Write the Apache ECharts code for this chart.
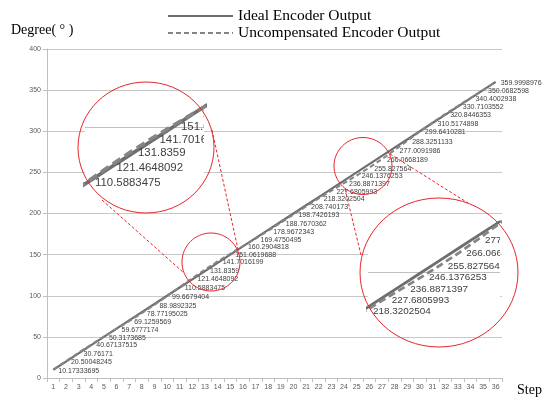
<!DOCTYPE html>
<html>
<head>
<meta charset="utf-8">
<script src="https://cdn.jsdelivr.net/npm/echarts@6/dist/echarts.min.js"></script>
<style>
  html, body { margin: 0; padding: 0; background: #fff; }
  #chart { width: 550px; height: 399px; }
</style>
</head>
<body>
<div id="chart"></div>
<script>
// Encoder steps and angle readings (degrees)
const steps = ['1','2','3','4','5','6','7','8','9','10','11','12','13','14','15','16','17','18',
               '19','20','21','22','23','24','25','26','27','28','29','30','31','32','33','34','35','36'];

const idealOutput = [10, 20, 30, 40, 50, 60, 70, 80, 90, 100, 110, 120, 130, 140, 150, 160, 170, 180,
                     190, 200, 210, 220, 230, 240, 250, 260, 270, 280, 290, 300, 310, 320, 330, 340, 350, 360];

const uncompensatedOutput = [10.17333695, 20.50048245, 30.76171, 40.67137515, 50.3173685, 59.6777174,
                             69.1259569, 78.77195025, 88.9892325, 99.6679404, 110.5883475, 121.4648092,
                             131.8359, 141.7016199, 151.0619688, 160.2904818, 169.4750495, 178.9672343,
                             188.7670362, 198.7426193, 208.740173, 218.3202504, 227.6805993, 236.8871397,
                             246.1376253, 255.827564, 266.0668189, 277.0091986, 288.3251133, 299.6410281,
                             310.5174898, 320.8446353, 330.7103552, 340.4002938, 350.0682598, 359.9998976];

const seriesNames = ['Ideal Encoder Output', 'Uncompensated Encoder Output'];
const yRange = [0, 400];
const yStep = 50;

// Magnified views: screen box, visible step / degree window, and callout geometry
const magnifiers = [
  {
    box: { left: 85, top: 105, width: 119, height: 85 },
    steps: [10.907, 16.442], degrees: [104.8, 165.78], gridAt: 150,
    fontSize: 11.4, lineWidth: 3.6, labelGap: 8,
    lens: { cx: 211, cy: 262, rx: 29, ry: 29 },
    view: { cx: 146, cy: 147.5, rx: 68, ry: 65.5 },
    rays: [[102, 200, 184, 273], [212, 130, 239, 254]]
  },
  {
    box: { left: 368, top: 222, width: 132, height: 103 },
    steps: [22.107, 29.177], degrees: [206.24, 291.29], gridAt: 250,
    fontSize: 9.9, lineWidth: 2.8, labelGap: 7,
    lens: { cx: 363, cy: 166, rx: 29, ry: 28.5 },
    view: { cx: 439, cy: 272.5, rx: 79, ry: 74.5 },
    rays: [[390, 154, 468, 203], [345, 189, 361, 255]]
  }
];

const solidColor = '#6e6e6e';
const dashColor = '#858585';
const red = '#e5262d';
const labelFont = 'Liberation Sans';
const serif = 'Liberation Serif';

const chart = echarts.init(document.getElementById('chart'), null, { renderer: 'canvas' });

const grids = [{ left: 47, right: 48, top: 49, bottom: 21, containLabel: false }];
const xAxes = [{
  type: 'category', gridIndex: 0, data: steps, boundaryGap: true,
  axisLine: { lineStyle: { color: '#bfbfbf', width: 1 } },
  axisTick: { show: true, length: 4, alignWithLabel: false, lineStyle: { color: '#bfbfbf' } },
  axisLabel: { fontSize: 7, color: '#595959', fontFamily: labelFont, margin: 6 },
  splitLine: { show: false }
}];
const yAxes = [{
  type: 'value', gridIndex: 0, min: yRange[0], max: yRange[1], interval: yStep,
  axisLine: { show: true, lineStyle: { color: '#bfbfbf', width: 1 } },
  axisTick: { show: true, length: 4, lineStyle: { color: '#bfbfbf' } },
  axisLabel: { fontSize: 7, color: '#595959', fontFamily: labelFont, margin: 6 },
  splitLine: { show: true, lineStyle: { color: '#c8c8c8', width: 1 } }
}];

const series = [
  {
    name: seriesNames[0], type: 'line', xAxisIndex: 0, yAxisIndex: 0,
    data: idealOutput, symbol: 'none', smooth: false, z: 3,
    lineStyle: { color: solidColor, width: 2.2 }, itemStyle: { color: solidColor },
    emphasis: { disabled: true }
  },
  {
    name: seriesNames[1], type: 'line', xAxisIndex: 0, yAxisIndex: 0,
    data: uncompensatedOutput, symbol: 'circle', symbolSize: 0.01, showSymbol: true, z: 4,
    lineStyle: { color: dashColor, width: 2, type: [5, 3] }, itemStyle: { color: dashColor },
    label: {
      show: true, position: 'right', distance: 5, offset: [0, 1],
      fontSize: 7, color: '#404040', fontFamily: labelFont,
      formatter: p => String(uncompensatedOutput[p.dataIndex])
    },
    emphasis: { disabled: true }
  }
];

const graphics = [
  { type: 'text', x: 11, y: 23, z: 30,
    style: { text: 'Degree( ° )', font: '14px "Liberation Serif"', fill: '#000' } },
  { type: 'text', x: 517, y: 383, z: 30,
    style: { text: 'Step', font: '14px "Liberation Serif"', fill: '#000' } }
];

magnifiers.forEach((m, k) => {
  const gi = k + 1;
  grids.push(Object.assign({ show: true, backgroundColor: '#ffffff', borderWidth: 0, z: 5 }, m.box));
  xAxes.push({
    type: 'value', gridIndex: gi, min: m.steps[0], max: m.steps[1], show: false, z: 6
  });
  yAxes.push({
    type: 'value', gridIndex: gi, min: m.degrees[0], max: m.degrees[1], show: false, z: 6,
    splitLine: { show: false }
  });
  const idealPts = idealOutput.map((v, i) => [i + 1, v]);
  const uncompPts = uncompensatedOutput.map((v, i) => [i + 1, v]);
  series.push({
    type: 'line', xAxisIndex: gi, yAxisIndex: gi, data: idealPts, symbol: 'none', z: 7, clip: true,
    lineStyle: { color: solidColor, width: m.lineWidth }, silent: true,
    markLine: {
      silent: true, symbol: 'none', label: { show: false },
      lineStyle: { color: '#bfbfbf', width: 1, type: 'solid' },
      data: [{ yAxis: m.gridAt }]
    }
  });
  series.push({
    type: 'line', xAxisIndex: gi, yAxisIndex: gi, data: uncompPts, symbol: 'none', z: 8, clip: true,
    lineStyle: { color: dashColor, width: m.lineWidth, type: [m.lineWidth * 2.6, m.lineWidth * 1.4] },
    silent: true
  });
  // value labels of the magnified view, clipped to its box
  series.push({
    type: 'custom', xAxisIndex: gi, yAxisIndex: gi, data: uncompPts, z: 9, clip: true, silent: true,
    renderItem: (params, api) => {
      const step = api.value(0);
      if (step < m.steps[0] - 0.25 || step > m.steps[1]) return null;
      const pt = api.coord([step, api.value(1)]);
      return {
        type: 'text', x: pt[0] + m.labelGap, y: pt[1] + 1,
        style: {
          text: String(uncompensatedOutput[params.dataIndex]),
          fontSize: m.fontSize, fontFamily: labelFont, fill: '#404040',
          align: 'left', verticalAlign: 'middle'
        }
      };
    }
  });

  graphics.push({ type: 'ellipse', z: 20, silent: true,
    shape: { cx: m.lens.cx, cy: m.lens.cy, rx: m.lens.rx, ry: m.lens.ry },
    style: { fill: null, stroke: red, lineWidth: 1 } });
  graphics.push({ type: 'ellipse', z: 20, silent: true,
    shape: { cx: m.view.cx, cy: m.view.cy, rx: m.view.rx, ry: m.view.ry },
    style: { fill: null, stroke: red, lineWidth: 1 } });
  m.rays.forEach(r => graphics.push({ type: 'line', z: 20, silent: true,
    shape: { x1: r[0], y1: r[1], x2: r[2], y2: r[3] },
    style: { stroke: red, lineWidth: 1, lineDash: [3, 2] } }));
});

chart.setOption({
  animation: false,
  backgroundColor: '#ffffff',
  legend: {
    data: seriesNames, orient: 'vertical', left: 167, top: 8, padding: 0,
    itemWidth: 65, itemHeight: 14, itemGap: 1, itemStyle: { opacity: 0 },
    textStyle: { fontFamily: serif, fontSize: 15.5, color: '#000' },
    selectedMode: false
  },
  grid: grids,
  xAxis: xAxes,
  yAxis: yAxes,
  series: series,
  graphic: graphics
});
</script>
</body>
</html>
